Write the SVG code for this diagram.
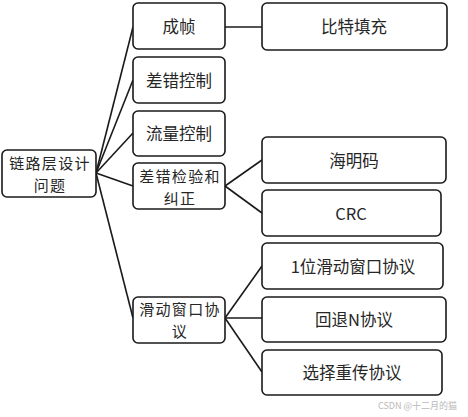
<svg xmlns="http://www.w3.org/2000/svg" width="468" height="417" viewBox="0 0 468 417">
<style>
.box{fill:#fff;stroke:#1a1a1a;stroke-width:1.6}
.t{font-family:"Noto Sans CJK SC","Liberation Sans",sans-serif;font-size:16.5px;fill:#262626;text-anchor:middle;dominant-baseline:central}
.t2{font-size:15px;letter-spacing:1.3px}
.c{stroke:#1a1a1a;stroke-width:1.6;fill:none}
.wm{font-family:"Noto Sans CJK SC","Liberation Sans",sans-serif;font-size:9px;fill:#b8b8b8}
</style>
<rect width="468" height="417" fill="#fff"/>
<g id="connectors">
<line class="c" x1="96" y1="173" x2="133" y2="27"/>
<line class="c" x1="96" y1="173" x2="133" y2="80"/>
<line class="c" x1="96" y1="173" x2="133" y2="133"/>
<line class="c" x1="96" y1="173" x2="133" y2="186"/>
<line class="c" x1="96" y1="173" x2="133" y2="318"/>
<line class="c" x1="225" y1="27" x2="262" y2="27"/>
<line class="c" x1="225" y1="186" x2="262" y2="160"/>
<line class="c" x1="225" y1="186" x2="262" y2="213"/>
<line class="c" x1="225" y1="318" x2="262" y2="266"/>
<line class="c" x1="225" y1="318" x2="262" y2="318"/>
<line class="c" x1="225" y1="318" x2="262" y2="372"/>
</g>
<g id="root"><rect class="box" x="2" y="150" width="94" height="47" rx="5"/><text class="t t2" x="50" y="162.5">链路层设计</text><text class="t t2" x="50" y="184.5">问题</text></g>
<g id="framing"><rect class="box" x="133" y="3" width="92" height="46" rx="5"/><text class="t" x="179" y="26">成帧</text></g>
<g id="errctl"><rect class="box" x="133" y="57" width="92" height="46" rx="5"/><text class="t" x="179" y="80">差错控制</text></g>
<g id="flowctl"><rect class="box" x="133" y="111" width="92" height="45" rx="5"/><text class="t" x="179" y="133">流量控制</text></g>
<g id="errdet"><rect class="box" x="133" y="163" width="92" height="46" rx="5"/><text class="t t2" x="180" y="175.5">差错检验和</text><text class="t t2" x="180" y="197.5">纠正</text></g>
<g id="sliding"><rect class="box" x="133" y="297" width="92" height="46" rx="5"/><text class="t t2" x="180" y="308">滑动窗口协</text><text class="t t2" x="180" y="330">议</text></g>
<g id="bitstuff"><rect class="box" x="262" y="3" width="185" height="47" rx="5"/><text class="t" x="354" y="26">比特填充</text></g>
<g id="hamming"><rect class="box" x="262" y="137" width="184" height="46" rx="5"/><text class="t" x="354" y="160">海明码</text></g>
<g id="crc"><rect class="box" x="262" y="190" width="179" height="46" rx="5"/><text class="t" x="351" y="213">CRC</text></g>
<g id="onebit"><rect class="box" x="262" y="243" width="181" height="46" rx="5"/><text class="t" x="353" y="266">1位滑动窗口协议</text></g>
<g id="gobackn"><rect class="box" x="262" y="297" width="184" height="45" rx="5"/><text class="t" x="354" y="319">回退N协议</text></g>
<g id="selrep"><rect class="box" x="262" y="350" width="180" height="45" rx="5"/><text class="t" x="352" y="372">选择重传协议</text></g>
<text class="wm" x="378" y="409">CSDN @十二月的猫</text>
</svg>
